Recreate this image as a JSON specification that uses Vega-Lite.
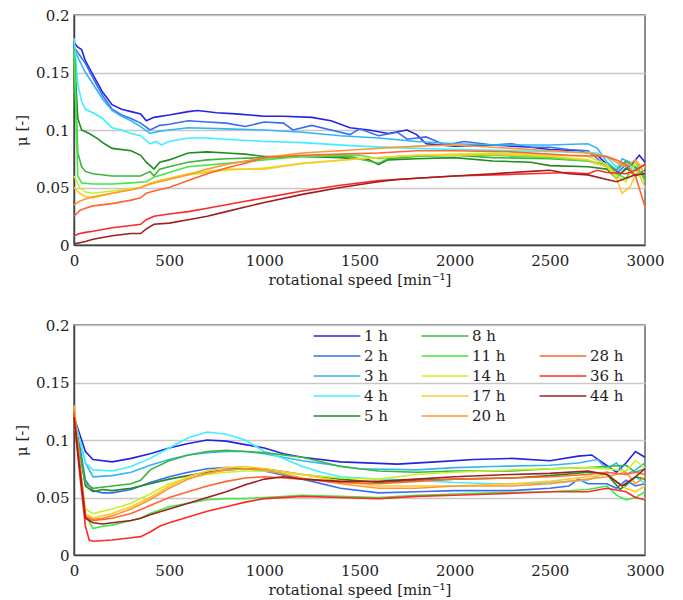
{
"$schema": "https://vega.github.io/schema/vega-lite/v6.json",
"autosize": {"type": "pad"},
"padding": {"left": 13, "top": 7, "right": 10, "bottom": 5},
"background": "white",
"spacing": 80,
"bounds": "flush",
"config": {
 "font": "DejaVu Serif",
 "view": {"stroke": "#666", "strokeWidth": 1.5},
 "axis": {"labelFont": "DejaVu Serif", "labelFontSize": 15, "labelColor": "#222", "titleFont": "DejaVu Serif", "titleFontSize": 15, "titleFontWeight": "normal", "titleColor": "#222", "domainColor": "#444", "domainWidth": 1.5, "ticks": false, "gridColor": "#c8c8c8", "gridWidth": 1.5, "labelFlush": false},
 "line": {"strokeWidth": 1.6},
 "legend": {"symbolType": "M-2.6,0H2.6", "symbolSize": 324, "symbolStrokeWidth": 2, "labelFont": "DejaVu Serif", "labelFontSize": 15, "labelColor": "#222", "labelOffset": 17, "labelLimit": 200, "padding": 0}
},
"datasets": {
"top": [
{"s":"1 h","x":0,"y":0.176},{"s":"1 h","x":20,"y":0.172},{"s":"1 h","x":40,"y":0.17},{"s":"1 h","x":60,"y":0.16},{"s":"1 h","x":100,"y":0.148},{"s":"1 h","x":150,"y":0.133},{"s":"1 h","x":200,"y":0.122},{"s":"1 h","x":250,"y":0.118},{"s":"1 h","x":300,"y":0.116},{"s":"1 h","x":350,"y":0.114},{"s":"1 h","x":380,"y":0.108},{"s":"1 h","x":420,"y":0.111},{"s":"1 h","x":500,"y":0.113},{"s":"1 h","x":600,"y":0.116},{"s":"1 h","x":650,"y":0.117},{"s":"1 h","x":750,"y":0.115},{"s":"1 h","x":850,"y":0.114},{"s":"1 h","x":1000,"y":0.112},{"s":"1 h","x":1100,"y":0.112},{"s":"1 h","x":1250,"y":0.111},{"s":"1 h","x":1350,"y":0.108},{"s":"1 h","x":1450,"y":0.102},{"s":"1 h","x":1550,"y":0.1},{"s":"1 h","x":1650,"y":0.097},{"s":"1 h","x":1750,"y":0.1},{"s":"1 h","x":1800,"y":0.096},{"s":"1 h","x":1850,"y":0.088},{"s":"1 h","x":2000,"y":0.086},{"s":"1 h","x":2200,"y":0.087},{"s":"1 h","x":2400,"y":0.085},{"s":"1 h","x":2500,"y":0.083},{"s":"1 h","x":2650,"y":0.082},{"s":"1 h","x":2750,"y":0.078},{"s":"1 h","x":2800,"y":0.07},{"s":"1 h","x":2870,"y":0.062},{"s":"1 h","x":2930,"y":0.07},{"s":"1 h","x":2970,"y":0.078},{"s":"1 h","x":3000,"y":0.072},
{"s":"2 h","x":0,"y":0.172},{"s":"2 h","x":30,"y":0.165},{"s":"2 h","x":60,"y":0.158},{"s":"2 h","x":100,"y":0.145},{"s":"2 h","x":150,"y":0.13},{"s":"2 h","x":200,"y":0.118},{"s":"2 h","x":250,"y":0.113},{"s":"2 h","x":300,"y":0.11},{"s":"2 h","x":350,"y":0.106},{"s":"2 h","x":400,"y":0.1},{"s":"2 h","x":450,"y":0.104},{"s":"2 h","x":500,"y":0.105},{"s":"2 h","x":600,"y":0.108},{"s":"2 h","x":700,"y":0.107},{"s":"2 h","x":800,"y":0.106},{"s":"2 h","x":900,"y":0.103},{"s":"2 h","x":1000,"y":0.107},{"s":"2 h","x":1100,"y":0.106},{"s":"2 h","x":1150,"y":0.1},{"s":"2 h","x":1250,"y":0.104},{"s":"2 h","x":1350,"y":0.1},{"s":"2 h","x":1450,"y":0.096},{"s":"2 h","x":1500,"y":0.101},{"s":"2 h","x":1600,"y":0.095},{"s":"2 h","x":1700,"y":0.098},{"s":"2 h","x":1750,"y":0.092},{"s":"2 h","x":1850,"y":0.094},{"s":"2 h","x":1950,"y":0.087},{"s":"2 h","x":2050,"y":0.09},{"s":"2 h","x":2200,"y":0.087},{"s":"2 h","x":2300,"y":0.088},{"s":"2 h","x":2400,"y":0.085},{"s":"2 h","x":2500,"y":0.085},{"s":"2 h","x":2600,"y":0.083},{"s":"2 h","x":2700,"y":0.082},{"s":"2 h","x":2750,"y":0.075},{"s":"2 h","x":2800,"y":0.068},{"s":"2 h","x":2850,"y":0.062},{"s":"2 h","x":2900,"y":0.07},{"s":"2 h","x":2950,"y":0.06},{"s":"2 h","x":3000,"y":0.065},
{"s":"3 h","x":0,"y":0.17},{"s":"3 h","x":30,"y":0.16},{"s":"3 h","x":60,"y":0.15},{"s":"3 h","x":100,"y":0.14},{"s":"3 h","x":150,"y":0.127},{"s":"3 h","x":200,"y":0.117},{"s":"3 h","x":250,"y":0.112},{"s":"3 h","x":300,"y":0.108},{"s":"3 h","x":350,"y":0.103},{"s":"3 h","x":400,"y":0.097},{"s":"3 h","x":450,"y":0.099},{"s":"3 h","x":500,"y":0.1},{"s":"3 h","x":600,"y":0.102},{"s":"3 h","x":800,"y":0.101},{"s":"3 h","x":1000,"y":0.1},{"s":"3 h","x":1200,"y":0.098},{"s":"3 h","x":1400,"y":0.095},{"s":"3 h","x":1600,"y":0.093},{"s":"3 h","x":1800,"y":0.09},{"s":"3 h","x":2000,"y":0.088},{"s":"3 h","x":2200,"y":0.087},{"s":"3 h","x":2500,"y":0.087},{"s":"3 h","x":2700,"y":0.088},{"s":"3 h","x":2750,"y":0.084},{"s":"3 h","x":2800,"y":0.072},{"s":"3 h","x":2850,"y":0.065},{"s":"3 h","x":2880,"y":0.075},{"s":"3 h","x":2920,"y":0.072},{"s":"3 h","x":2960,"y":0.065},{"s":"3 h","x":3000,"y":0.06},
{"s":"4 h","x":0,"y":0.18},{"s":"4 h","x":20,"y":0.14},{"s":"4 h","x":40,"y":0.125},{"s":"4 h","x":60,"y":0.118},{"s":"4 h","x":100,"y":0.115},{"s":"4 h","x":150,"y":0.11},{"s":"4 h","x":200,"y":0.102},{"s":"4 h","x":250,"y":0.1},{"s":"4 h","x":300,"y":0.097},{"s":"4 h","x":350,"y":0.095},{"s":"4 h","x":400,"y":0.088},{"s":"4 h","x":430,"y":0.09},{"s":"4 h","x":460,"y":0.087},{"s":"4 h","x":500,"y":0.09},{"s":"4 h","x":600,"y":0.093},{"s":"4 h","x":700,"y":0.093},{"s":"4 h","x":800,"y":0.092},{"s":"4 h","x":1000,"y":0.09},{"s":"4 h","x":1200,"y":0.089},{"s":"4 h","x":1500,"y":0.086},{"s":"4 h","x":1800,"y":0.084},{"s":"4 h","x":2000,"y":0.083},{"s":"4 h","x":2300,"y":0.082},{"s":"4 h","x":2600,"y":0.081},{"s":"4 h","x":2750,"y":0.08},{"s":"4 h","x":2800,"y":0.076},{"s":"4 h","x":2850,"y":0.068},{"s":"4 h","x":2900,"y":0.072},{"s":"4 h","x":2950,"y":0.065},{"s":"4 h","x":3000,"y":0.063},
{"s":"5 h","x":0,"y":0.17},{"s":"5 h","x":20,"y":0.11},{"s":"5 h","x":40,"y":0.1},{"s":"5 h","x":80,"y":0.097},{"s":"5 h","x":120,"y":0.093},{"s":"5 h","x":160,"y":0.088},{"s":"5 h","x":200,"y":0.084},{"s":"5 h","x":300,"y":0.082},{"s":"5 h","x":350,"y":0.078},{"s":"5 h","x":380,"y":0.072},{"s":"5 h","x":420,"y":0.066},{"s":"5 h","x":450,"y":0.072},{"s":"5 h","x":500,"y":0.074},{"s":"5 h","x":600,"y":0.08},{"s":"5 h","x":700,"y":0.081},{"s":"5 h","x":800,"y":0.08},{"s":"5 h","x":900,"y":0.079},{"s":"5 h","x":1000,"y":0.077},{"s":"5 h","x":1200,"y":0.077},{"s":"5 h","x":1400,"y":0.076},{"s":"5 h","x":1550,"y":0.074},{"s":"5 h","x":1600,"y":0.07},{"s":"5 h","x":1650,"y":0.074},{"s":"5 h","x":1800,"y":0.075},{"s":"5 h","x":2000,"y":0.076},{"s":"5 h","x":2200,"y":0.073},{"s":"5 h","x":2400,"y":0.072},{"s":"5 h","x":2500,"y":0.069},{"s":"5 h","x":2700,"y":0.068},{"s":"5 h","x":2800,"y":0.066},{"s":"5 h","x":2850,"y":0.058},{"s":"5 h","x":2900,"y":0.067},{"s":"5 h","x":2950,"y":0.06},{"s":"5 h","x":3000,"y":0.065},
{"s":"8 h","x":0,"y":0.17},{"s":"8 h","x":20,"y":0.08},{"s":"8 h","x":40,"y":0.068},{"s":"8 h","x":60,"y":0.064},{"s":"8 h","x":100,"y":0.062},{"s":"8 h","x":200,"y":0.06},{"s":"8 h","x":300,"y":0.06},{"s":"8 h","x":350,"y":0.06},{"s":"8 h","x":400,"y":0.064},{"s":"8 h","x":420,"y":0.06},{"s":"8 h","x":450,"y":0.066},{"s":"8 h","x":500,"y":0.068},{"s":"8 h","x":600,"y":0.072},{"s":"8 h","x":700,"y":0.074},{"s":"8 h","x":800,"y":0.075},{"s":"8 h","x":1000,"y":0.076},{"s":"8 h","x":1200,"y":0.077},{"s":"8 h","x":1450,"y":0.077},{"s":"8 h","x":1550,"y":0.073},{"s":"8 h","x":1600,"y":0.071},{"s":"8 h","x":1650,"y":0.075},{"s":"8 h","x":1800,"y":0.077},{"s":"8 h","x":2000,"y":0.078},{"s":"8 h","x":2200,"y":0.076},{"s":"8 h","x":2500,"y":0.075},{"s":"8 h","x":2700,"y":0.073},{"s":"8 h","x":2800,"y":0.07},{"s":"8 h","x":2850,"y":0.065},{"s":"8 h","x":2900,"y":0.073},{"s":"8 h","x":2950,"y":0.068},{"s":"8 h","x":3000,"y":0.058},
{"s":"11 h","x":0,"y":0.17},{"s":"11 h","x":20,"y":0.06},{"s":"11 h","x":40,"y":0.054},{"s":"11 h","x":100,"y":0.053},{"s":"11 h","x":200,"y":0.053},{"s":"11 h","x":300,"y":0.054},{"s":"11 h","x":380,"y":0.055},{"s":"11 h","x":420,"y":0.059},{"s":"11 h","x":500,"y":0.063},{"s":"11 h","x":600,"y":0.068},{"s":"11 h","x":800,"y":0.071},{"s":"11 h","x":1000,"y":0.074},{"s":"11 h","x":1200,"y":0.077},{"s":"11 h","x":1500,"y":0.078},{"s":"11 h","x":1600,"y":0.075},{"s":"11 h","x":1700,"y":0.077},{"s":"11 h","x":2000,"y":0.078},{"s":"11 h","x":2200,"y":0.078},{"s":"11 h","x":2500,"y":0.076},{"s":"11 h","x":2700,"y":0.073},{"s":"11 h","x":2800,"y":0.068},{"s":"11 h","x":2850,"y":0.062},{"s":"11 h","x":2900,"y":0.058},{"s":"11 h","x":2950,"y":0.072},{"s":"11 h","x":3000,"y":0.055},
{"s":"14 h","x":0,"y":0.06},{"s":"14 h","x":30,"y":0.05},{"s":"14 h","x":60,"y":0.046},{"s":"14 h","x":100,"y":0.045},{"s":"14 h","x":200,"y":0.047},{"s":"14 h","x":300,"y":0.049},{"s":"14 h","x":350,"y":0.05},{"s":"14 h","x":400,"y":0.053},{"s":"14 h","x":450,"y":0.056},{"s":"14 h","x":500,"y":0.058},{"s":"14 h","x":600,"y":0.061},{"s":"14 h","x":800,"y":0.065},{"s":"14 h","x":1000,"y":0.067},{"s":"14 h","x":1200,"y":0.071},{"s":"14 h","x":1500,"y":0.075},{"s":"14 h","x":1800,"y":0.078},{"s":"14 h","x":2000,"y":0.079},{"s":"14 h","x":2200,"y":0.08},{"s":"14 h","x":2500,"y":0.078},{"s":"14 h","x":2700,"y":0.077},{"s":"14 h","x":2800,"y":0.07},{"s":"14 h","x":2850,"y":0.06},{"s":"14 h","x":2900,"y":0.055},{"s":"14 h","x":2950,"y":0.072},{"s":"14 h","x":3000,"y":0.068},
{"s":"17 h","x":0,"y":0.05},{"s":"17 h","x":30,"y":0.045},{"s":"17 h","x":60,"y":0.042},{"s":"17 h","x":100,"y":0.041},{"s":"17 h","x":200,"y":0.045},{"s":"17 h","x":300,"y":0.048},{"s":"17 h","x":350,"y":0.05},{"s":"17 h","x":400,"y":0.054},{"s":"17 h","x":450,"y":0.056},{"s":"17 h","x":500,"y":0.058},{"s":"17 h","x":600,"y":0.062},{"s":"17 h","x":800,"y":0.066},{"s":"17 h","x":1000,"y":0.066},{"s":"17 h","x":1200,"y":0.071},{"s":"17 h","x":1500,"y":0.075},{"s":"17 h","x":1800,"y":0.078},{"s":"17 h","x":2000,"y":0.078},{"s":"17 h","x":2200,"y":0.079},{"s":"17 h","x":2500,"y":0.077},{"s":"17 h","x":2700,"y":0.074},{"s":"17 h","x":2800,"y":0.068},{"s":"17 h","x":2850,"y":0.058},{"s":"17 h","x":2880,"y":0.045},{"s":"17 h","x":2920,"y":0.05},{"s":"17 h","x":2960,"y":0.065},{"s":"17 h","x":3000,"y":0.05},
{"s":"20 h","x":0,"y":0.035},{"s":"20 h","x":30,"y":0.038},{"s":"20 h","x":60,"y":0.04},{"s":"20 h","x":100,"y":0.042},{"s":"20 h","x":200,"y":0.045},{"s":"20 h","x":300,"y":0.048},{"s":"20 h","x":350,"y":0.05},{"s":"20 h","x":400,"y":0.053},{"s":"20 h","x":500,"y":0.057},{"s":"20 h","x":600,"y":0.061},{"s":"20 h","x":700,"y":0.066},{"s":"20 h","x":800,"y":0.07},{"s":"20 h","x":900,"y":0.073},{"s":"20 h","x":1000,"y":0.076},{"s":"20 h","x":1200,"y":0.08},{"s":"20 h","x":1500,"y":0.083},{"s":"20 h","x":1800,"y":0.086},{"s":"20 h","x":2000,"y":0.087},{"s":"20 h","x":2200,"y":0.085},{"s":"20 h","x":2500,"y":0.082},{"s":"20 h","x":2700,"y":0.08},{"s":"20 h","x":2800,"y":0.077},{"s":"20 h","x":2850,"y":0.072},{"s":"20 h","x":2900,"y":0.068},{"s":"20 h","x":2950,"y":0.074},{"s":"20 h","x":3000,"y":0.062},
{"s":"28 h","x":0,"y":0.025},{"s":"28 h","x":30,"y":0.03},{"s":"28 h","x":60,"y":0.032},{"s":"28 h","x":100,"y":0.034},{"s":"28 h","x":200,"y":0.036},{"s":"28 h","x":300,"y":0.039},{"s":"28 h","x":350,"y":0.041},{"s":"28 h","x":380,"y":0.045},{"s":"28 h","x":420,"y":0.047},{"s":"28 h","x":500,"y":0.05},{"s":"28 h","x":600,"y":0.056},{"s":"28 h","x":700,"y":0.062},{"s":"28 h","x":800,"y":0.067},{"s":"28 h","x":900,"y":0.071},{"s":"28 h","x":1000,"y":0.076},{"s":"28 h","x":1200,"y":0.078},{"s":"28 h","x":1400,"y":0.079},{"s":"28 h","x":1600,"y":0.08},{"s":"28 h","x":1800,"y":0.082},{"s":"28 h","x":2000,"y":0.082},{"s":"28 h","x":2300,"y":0.081},{"s":"28 h","x":2600,"y":0.078},{"s":"28 h","x":2800,"y":0.077},{"s":"28 h","x":2850,"y":0.074},{"s":"28 h","x":2900,"y":0.07},{"s":"28 h","x":2950,"y":0.06},{"s":"28 h","x":3000,"y":0.033},
{"s":"36 h","x":0,"y":0.008},{"s":"36 h","x":30,"y":0.01},{"s":"36 h","x":60,"y":0.011},{"s":"36 h","x":100,"y":0.012},{"s":"36 h","x":200,"y":0.015},{"s":"36 h","x":300,"y":0.017},{"s":"36 h","x":350,"y":0.018},{"s":"36 h","x":380,"y":0.022},{"s":"36 h","x":420,"y":0.025},{"s":"36 h","x":500,"y":0.027},{"s":"36 h","x":600,"y":0.029},{"s":"36 h","x":700,"y":0.032},{"s":"36 h","x":800,"y":0.035},{"s":"36 h","x":900,"y":0.038},{"s":"36 h","x":1000,"y":0.041},{"s":"36 h","x":1200,"y":0.047},{"s":"36 h","x":1400,"y":0.052},{"s":"36 h","x":1600,"y":0.056},{"s":"36 h","x":1800,"y":0.058},{"s":"36 h","x":2000,"y":0.06},{"s":"36 h","x":2200,"y":0.061},{"s":"36 h","x":2400,"y":0.062},{"s":"36 h","x":2600,"y":0.063},{"s":"36 h","x":2700,"y":0.062},{"s":"36 h","x":2750,"y":0.065},{"s":"36 h","x":2800,"y":0.063},{"s":"36 h","x":2900,"y":0.062},{"s":"36 h","x":2950,"y":0.065},{"s":"36 h","x":3000,"y":0.07},
{"s":"44 h","x":0,"y":0.001},{"s":"44 h","x":30,"y":0.002},{"s":"44 h","x":60,"y":0.003},{"s":"44 h","x":100,"y":0.005},{"s":"44 h","x":200,"y":0.008},{"s":"44 h","x":300,"y":0.01},{"s":"44 h","x":350,"y":0.01},{"s":"44 h","x":380,"y":0.014},{"s":"44 h","x":420,"y":0.018},{"s":"44 h","x":500,"y":0.019},{"s":"44 h","x":600,"y":0.022},{"s":"44 h","x":700,"y":0.025},{"s":"44 h","x":800,"y":0.029},{"s":"44 h","x":900,"y":0.033},{"s":"44 h","x":1000,"y":0.037},{"s":"44 h","x":1200,"y":0.044},{"s":"44 h","x":1400,"y":0.05},{"s":"44 h","x":1600,"y":0.055},{"s":"44 h","x":1700,"y":0.057},{"s":"44 h","x":1800,"y":0.058},{"s":"44 h","x":2000,"y":0.06},{"s":"44 h","x":2200,"y":0.062},{"s":"44 h","x":2400,"y":0.064},{"s":"44 h","x":2500,"y":0.065},{"s":"44 h","x":2600,"y":0.062},{"s":"44 h","x":2700,"y":0.061},{"s":"44 h","x":2800,"y":0.057},{"s":"44 h","x":2850,"y":0.055},{"s":"44 h","x":2900,"y":0.058},{"s":"44 h","x":2950,"y":0.061},{"s":"44 h","x":3000,"y":0.062}
],
"bottom": [
{"s":"1 h","x":0,"y":0.12},{"s":"1 h","x":30,"y":0.105},{"s":"1 h","x":60,"y":0.09},{"s":"1 h","x":100,"y":0.083},{"s":"1 h","x":200,"y":0.081},{"s":"1 h","x":300,"y":0.084},{"s":"1 h","x":400,"y":0.088},{"s":"1 h","x":500,"y":0.093},{"s":"1 h","x":600,"y":0.097},{"s":"1 h","x":700,"y":0.1},{"s":"1 h","x":800,"y":0.099},{"s":"1 h","x":900,"y":0.096},{"s":"1 h","x":1000,"y":0.093},{"s":"1 h","x":1100,"y":0.088},{"s":"1 h","x":1200,"y":0.085},{"s":"1 h","x":1400,"y":0.081},{"s":"1 h","x":1700,"y":0.079},{"s":"1 h","x":1900,"y":0.081},{"s":"1 h","x":2100,"y":0.083},{"s":"1 h","x":2300,"y":0.084},{"s":"1 h","x":2500,"y":0.082},{"s":"1 h","x":2650,"y":0.086},{"s":"1 h","x":2720,"y":0.087},{"s":"1 h","x":2780,"y":0.08},{"s":"1 h","x":2850,"y":0.072},{"s":"1 h","x":2900,"y":0.08},{"s":"1 h","x":2950,"y":0.09},{"s":"1 h","x":3000,"y":0.085},
{"s":"2 h","x":0,"y":0.12},{"s":"2 h","x":30,"y":0.095},{"s":"2 h","x":60,"y":0.065},{"s":"2 h","x":100,"y":0.056},{"s":"2 h","x":150,"y":0.054},{"s":"2 h","x":200,"y":0.054},{"s":"2 h","x":300,"y":0.057},{"s":"2 h","x":400,"y":0.063},{"s":"2 h","x":500,"y":0.068},{"s":"2 h","x":600,"y":0.072},{"s":"2 h","x":700,"y":0.075},{"s":"2 h","x":800,"y":0.076},{"s":"2 h","x":900,"y":0.075},{"s":"2 h","x":1000,"y":0.073},{"s":"2 h","x":1200,"y":0.066},{"s":"2 h","x":1400,"y":0.058},{"s":"2 h","x":1600,"y":0.054},{"s":"2 h","x":1800,"y":0.055},{"s":"2 h","x":2000,"y":0.056},{"s":"2 h","x":2300,"y":0.056},{"s":"2 h","x":2500,"y":0.058},{"s":"2 h","x":2600,"y":0.06},{"s":"2 h","x":2650,"y":0.066},{"s":"2 h","x":2700,"y":0.062},{"s":"2 h","x":2800,"y":0.062},{"s":"2 h","x":2850,"y":0.058},{"s":"2 h","x":2900,"y":0.065},{"s":"2 h","x":2950,"y":0.06},{"s":"2 h","x":3000,"y":0.062},
{"s":"3 h","x":0,"y":0.12},{"s":"3 h","x":30,"y":0.1},{"s":"3 h","x":60,"y":0.08},{"s":"3 h","x":100,"y":0.068},{"s":"3 h","x":200,"y":0.069},{"s":"3 h","x":300,"y":0.072},{"s":"3 h","x":400,"y":0.078},{"s":"3 h","x":500,"y":0.083},{"s":"3 h","x":600,"y":0.087},{"s":"3 h","x":700,"y":0.089},{"s":"3 h","x":800,"y":0.09},{"s":"3 h","x":900,"y":0.09},{"s":"3 h","x":1000,"y":0.088},{"s":"3 h","x":1200,"y":0.082},{"s":"3 h","x":1500,"y":0.075},{"s":"3 h","x":1800,"y":0.074},{"s":"3 h","x":2000,"y":0.076},{"s":"3 h","x":2200,"y":0.077},{"s":"3 h","x":2500,"y":0.078},{"s":"3 h","x":2650,"y":0.08},{"s":"3 h","x":2750,"y":0.083},{"s":"3 h","x":2800,"y":0.075},{"s":"3 h","x":2850,"y":0.08},{"s":"3 h","x":2900,"y":0.07},{"s":"3 h","x":2950,"y":0.074},{"s":"3 h","x":3000,"y":0.08},
{"s":"4 h","x":0,"y":0.12},{"s":"4 h","x":30,"y":0.1},{"s":"4 h","x":60,"y":0.08},{"s":"4 h","x":100,"y":0.074},{"s":"4 h","x":200,"y":0.073},{"s":"4 h","x":300,"y":0.077},{"s":"4 h","x":400,"y":0.084},{"s":"4 h","x":500,"y":0.093},{"s":"4 h","x":600,"y":0.102},{"s":"4 h","x":700,"y":0.107},{"s":"4 h","x":800,"y":0.105},{"s":"4 h","x":900,"y":0.1},{"s":"4 h","x":1000,"y":0.09},{"s":"4 h","x":1100,"y":0.084},{"s":"4 h","x":1200,"y":0.077},{"s":"4 h","x":1300,"y":0.072},{"s":"4 h","x":1400,"y":0.068},{"s":"4 h","x":1600,"y":0.066},{"s":"4 h","x":1800,"y":0.065},{"s":"4 h","x":2000,"y":0.063},{"s":"4 h","x":2200,"y":0.062},{"s":"4 h","x":2400,"y":0.062},{"s":"4 h","x":2600,"y":0.064},{"s":"4 h","x":2700,"y":0.065},{"s":"4 h","x":2800,"y":0.072},{"s":"4 h","x":2850,"y":0.063},{"s":"4 h","x":2900,"y":0.06},{"s":"4 h","x":2950,"y":0.068},{"s":"4 h","x":3000,"y":0.062},
{"s":"5 h","x":0,"y":0.12},{"s":"5 h","x":30,"y":0.09},{"s":"5 h","x":60,"y":0.06},{"s":"5 h","x":100,"y":0.055},{"s":"5 h","x":150,"y":0.057},{"s":"5 h","x":200,"y":0.056},{"s":"5 h","x":300,"y":0.058},{"s":"5 h","x":400,"y":0.062},{"s":"5 h","x":500,"y":0.066},{"s":"5 h","x":600,"y":0.069},{"s":"5 h","x":700,"y":0.072},{"s":"5 h","x":800,"y":0.074},{"s":"5 h","x":900,"y":0.075},{"s":"5 h","x":1000,"y":0.075},{"s":"5 h","x":1200,"y":0.07},{"s":"5 h","x":1400,"y":0.066},{"s":"5 h","x":1600,"y":0.063},{"s":"5 h","x":1800,"y":0.065},{"s":"5 h","x":2000,"y":0.066},{"s":"5 h","x":2300,"y":0.067},{"s":"5 h","x":2500,"y":0.069},{"s":"5 h","x":2700,"y":0.072},{"s":"5 h","x":2800,"y":0.07},{"s":"5 h","x":2870,"y":0.057},{"s":"5 h","x":2950,"y":0.068},{"s":"5 h","x":3000,"y":0.066},
{"s":"8 h","x":0,"y":0.12},{"s":"8 h","x":30,"y":0.09},{"s":"8 h","x":60,"y":0.062},{"s":"8 h","x":100,"y":0.058},{"s":"8 h","x":200,"y":0.06},{"s":"8 h","x":300,"y":0.062},{"s":"8 h","x":350,"y":0.065},{"s":"8 h","x":400,"y":0.074},{"s":"8 h","x":500,"y":0.082},{"s":"8 h","x":600,"y":0.087},{"s":"8 h","x":700,"y":0.09},{"s":"8 h","x":800,"y":0.091},{"s":"8 h","x":900,"y":0.09},{"s":"8 h","x":1000,"y":0.089},{"s":"8 h","x":1200,"y":0.085},{"s":"8 h","x":1400,"y":0.077},{"s":"8 h","x":1600,"y":0.073},{"s":"8 h","x":1800,"y":0.072},{"s":"8 h","x":2000,"y":0.073},{"s":"8 h","x":2300,"y":0.073},{"s":"8 h","x":2500,"y":0.075},{"s":"8 h","x":2700,"y":0.076},{"s":"8 h","x":2800,"y":0.077},{"s":"8 h","x":2900,"y":0.078},{"s":"8 h","x":2950,"y":0.072},{"s":"8 h","x":3000,"y":0.075},
{"s":"11 h","x":0,"y":0.12},{"s":"11 h","x":30,"y":0.075},{"s":"11 h","x":60,"y":0.035},{"s":"11 h","x":100,"y":0.023},{"s":"11 h","x":150,"y":0.025},{"s":"11 h","x":200,"y":0.026},{"s":"11 h","x":300,"y":0.03},{"s":"11 h","x":350,"y":0.032},{"s":"11 h","x":400,"y":0.036},{"s":"11 h","x":500,"y":0.042},{"s":"11 h","x":600,"y":0.045},{"s":"11 h","x":700,"y":0.048},{"s":"11 h","x":800,"y":0.049},{"s":"11 h","x":900,"y":0.049},{"s":"11 h","x":1000,"y":0.05},{"s":"11 h","x":1200,"y":0.052},{"s":"11 h","x":1400,"y":0.051},{"s":"11 h","x":1600,"y":0.05},{"s":"11 h","x":1800,"y":0.052},{"s":"11 h","x":2000,"y":0.053},{"s":"11 h","x":2200,"y":0.054},{"s":"11 h","x":2500,"y":0.055},{"s":"11 h","x":2700,"y":0.057},{"s":"11 h","x":2800,"y":0.06},{"s":"11 h","x":2850,"y":0.052},{"s":"11 h","x":2900,"y":0.048},{"s":"11 h","x":2950,"y":0.05},{"s":"11 h","x":3000,"y":0.055},
{"s":"14 h","x":0,"y":0.12},{"s":"14 h","x":30,"y":0.08},{"s":"14 h","x":60,"y":0.04},{"s":"14 h","x":100,"y":0.036},{"s":"14 h","x":150,"y":0.038},{"s":"14 h","x":200,"y":0.04},{"s":"14 h","x":300,"y":0.045},{"s":"14 h","x":400,"y":0.053},{"s":"14 h","x":500,"y":0.062},{"s":"14 h","x":600,"y":0.067},{"s":"14 h","x":700,"y":0.07},{"s":"14 h","x":800,"y":0.072},{"s":"14 h","x":900,"y":0.073},{"s":"14 h","x":1000,"y":0.073},{"s":"14 h","x":1200,"y":0.07},{"s":"14 h","x":1400,"y":0.067},{"s":"14 h","x":1600,"y":0.066},{"s":"14 h","x":1800,"y":0.07},{"s":"14 h","x":2000,"y":0.072},{"s":"14 h","x":2300,"y":0.074},{"s":"14 h","x":2500,"y":0.075},{"s":"14 h","x":2700,"y":0.076},{"s":"14 h","x":2800,"y":0.075},{"s":"14 h","x":2900,"y":0.073},{"s":"14 h","x":2950,"y":0.082},{"s":"14 h","x":3000,"y":0.076},
{"s":"17 h","x":0,"y":0.13},{"s":"17 h","x":30,"y":0.08},{"s":"17 h","x":60,"y":0.036},{"s":"17 h","x":100,"y":0.032},{"s":"17 h","x":150,"y":0.034},{"s":"17 h","x":200,"y":0.036},{"s":"17 h","x":300,"y":0.042},{"s":"17 h","x":400,"y":0.05},{"s":"17 h","x":500,"y":0.06},{"s":"17 h","x":600,"y":0.068},{"s":"17 h","x":700,"y":0.073},{"s":"17 h","x":800,"y":0.076},{"s":"17 h","x":900,"y":0.077},{"s":"17 h","x":1000,"y":0.075},{"s":"17 h","x":1200,"y":0.07},{"s":"17 h","x":1400,"y":0.064},{"s":"17 h","x":1600,"y":0.06},{"s":"17 h","x":1800,"y":0.06},{"s":"17 h","x":2000,"y":0.06},{"s":"17 h","x":2300,"y":0.062},{"s":"17 h","x":2500,"y":0.064},{"s":"17 h","x":2700,"y":0.068},{"s":"17 h","x":2800,"y":0.07},{"s":"17 h","x":2900,"y":0.058},{"s":"17 h","x":2950,"y":0.055},{"s":"17 h","x":3000,"y":0.06},
{"s":"20 h","x":0,"y":0.13},{"s":"20 h","x":30,"y":0.08},{"s":"20 h","x":60,"y":0.034},{"s":"20 h","x":100,"y":0.031},{"s":"20 h","x":150,"y":0.032},{"s":"20 h","x":200,"y":0.034},{"s":"20 h","x":300,"y":0.04},{"s":"20 h","x":400,"y":0.048},{"s":"20 h","x":500,"y":0.058},{"s":"20 h","x":600,"y":0.066},{"s":"20 h","x":700,"y":0.071},{"s":"20 h","x":800,"y":0.074},{"s":"20 h","x":900,"y":0.075},{"s":"20 h","x":1000,"y":0.074},{"s":"20 h","x":1200,"y":0.067},{"s":"20 h","x":1400,"y":0.062},{"s":"20 h","x":1600,"y":0.058},{"s":"20 h","x":1800,"y":0.058},{"s":"20 h","x":2000,"y":0.06},{"s":"20 h","x":2300,"y":0.06},{"s":"20 h","x":2500,"y":0.062},{"s":"20 h","x":2700,"y":0.066},{"s":"20 h","x":2800,"y":0.068},{"s":"20 h","x":2900,"y":0.072},{"s":"20 h","x":2950,"y":0.062},{"s":"20 h","x":3000,"y":0.068},
{"s":"28 h","x":0,"y":0.125},{"s":"28 h","x":30,"y":0.08},{"s":"28 h","x":60,"y":0.033},{"s":"28 h","x":100,"y":0.03},{"s":"28 h","x":150,"y":0.031},{"s":"28 h","x":200,"y":0.032},{"s":"28 h","x":300,"y":0.036},{"s":"28 h","x":400,"y":0.043},{"s":"28 h","x":500,"y":0.05},{"s":"28 h","x":600,"y":0.055},{"s":"28 h","x":700,"y":0.06},{"s":"28 h","x":800,"y":0.064},{"s":"28 h","x":900,"y":0.067},{"s":"28 h","x":1000,"y":0.068},{"s":"28 h","x":1200,"y":0.066},{"s":"28 h","x":1400,"y":0.063},{"s":"28 h","x":1600,"y":0.062},{"s":"28 h","x":1800,"y":0.064},{"s":"28 h","x":2000,"y":0.066},{"s":"28 h","x":2300,"y":0.067},{"s":"28 h","x":2500,"y":0.068},{"s":"28 h","x":2700,"y":0.07},{"s":"28 h","x":2800,"y":0.072},{"s":"28 h","x":2900,"y":0.07},{"s":"28 h","x":2950,"y":0.072},{"s":"28 h","x":3000,"y":0.07},
{"s":"36 h","x":0,"y":0.12},{"s":"36 h","x":30,"y":0.07},{"s":"36 h","x":60,"y":0.025},{"s":"36 h","x":80,"y":0.013},{"s":"36 h","x":100,"y":0.012},{"s":"36 h","x":200,"y":0.013},{"s":"36 h","x":300,"y":0.015},{"s":"36 h","x":350,"y":0.016},{"s":"36 h","x":400,"y":0.02},{"s":"36 h","x":450,"y":0.025},{"s":"36 h","x":500,"y":0.028},{"s":"36 h","x":600,"y":0.033},{"s":"36 h","x":700,"y":0.038},{"s":"36 h","x":800,"y":0.042},{"s":"36 h","x":900,"y":0.046},{"s":"36 h","x":1000,"y":0.049},{"s":"36 h","x":1200,"y":0.051},{"s":"36 h","x":1400,"y":0.05},{"s":"36 h","x":1600,"y":0.049},{"s":"36 h","x":1800,"y":0.051},{"s":"36 h","x":2000,"y":0.052},{"s":"36 h","x":2200,"y":0.053},{"s":"36 h","x":2500,"y":0.055},{"s":"36 h","x":2700,"y":0.055},{"s":"36 h","x":2800,"y":0.058},{"s":"36 h","x":2900,"y":0.055},{"s":"36 h","x":2950,"y":0.05},{"s":"36 h","x":3000,"y":0.048},
{"s":"44 h","x":0,"y":0.12},{"s":"44 h","x":30,"y":0.075},{"s":"44 h","x":60,"y":0.032},{"s":"44 h","x":100,"y":0.028},{"s":"44 h","x":150,"y":0.027},{"s":"44 h","x":200,"y":0.028},{"s":"44 h","x":300,"y":0.03},{"s":"44 h","x":350,"y":0.032},{"s":"44 h","x":400,"y":0.035},{"s":"44 h","x":500,"y":0.04},{"s":"44 h","x":600,"y":0.045},{"s":"44 h","x":700,"y":0.05},{"s":"44 h","x":800,"y":0.055},{"s":"44 h","x":900,"y":0.061},{"s":"44 h","x":1000,"y":0.066},{"s":"44 h","x":1100,"y":0.068},{"s":"44 h","x":1200,"y":0.066},{"s":"44 h","x":1400,"y":0.064},{"s":"44 h","x":1600,"y":0.064},{"s":"44 h","x":1800,"y":0.066},{"s":"44 h","x":2000,"y":0.068},{"s":"44 h","x":2300,"y":0.07},{"s":"44 h","x":2500,"y":0.071},{"s":"44 h","x":2700,"y":0.073},{"s":"44 h","x":2800,"y":0.07},{"s":"44 h","x":2880,"y":0.06},{"s":"44 h","x":2950,"y":0.068},{"s":"44 h","x":3000,"y":0.075}
]
},
"resolve": {"legend": {"color": "independent"}},
"vconcat": [
 {
  "width": 571, "height": 230,
  "data": {"name": "top"},
  "mark": {"type": "line", "strokeWidth": 1.6},
  "encoding": {
   "x": {"field": "x", "type": "quantitative", "scale": {"domain": [0, 3000], "nice": false}, "axis": {"title": "rotational speed [min⁻¹]", "grid": false, "format": "d", "values": [0,500,1000,1500,2000,2500,3000], "labelPadding": 8, "titlePadding": 4}},
   "y": {"field": "y", "type": "quantitative", "scale": {"domain": [0, 0.2], "nice": false}, "axis": {"title": "μ [-]", "format": "~g", "values": [0,0.05,0.1,0.15,0.2], "labelPadding": 5, "titlePadding": 6}},
   "color": {"field": "s", "type": "nominal", "legend": null,
    "scale": {"domain": ["1 h","2 h","3 h","4 h","5 h","8 h","11 h","14 h","17 h","20 h","28 h","36 h","44 h"," "], "range": ["#2424e0","#3a6cf5","#33b5f5","#3ef0ff","#1e8c1e","#3cb43c","#44e844","#c8f028","#ffc828","#ff9632","#ff6432","#ff2828","#a01e1e","rgba(0,0,0,0)"]}},
   "order": {"field": "x", "type": "quantitative"}
  }
 },
 {
  "width": 571, "height": 230,
  "data": {"name": "bottom"},
  "mark": {"type": "line", "strokeWidth": 1.6},
  "encoding": {
   "x": {"field": "x", "type": "quantitative", "scale": {"domain": [0, 3000], "nice": false}, "axis": {"title": "rotational speed [min⁻¹]", "grid": false, "format": "d", "values": [0,500,1000,1500,2000,2500,3000], "labelPadding": 8, "titlePadding": 4}},
   "y": {"field": "y", "type": "quantitative", "scale": {"domain": [0, 0.2], "nice": false}, "axis": {"title": "μ [-]", "format": "~g", "values": [0,0.05,0.1,0.15,0.2], "labelPadding": 5, "titlePadding": 6}},
   "color": {"field": "s", "type": "nominal",
    "scale": {"domain": ["1 h","2 h","3 h","4 h","5 h","8 h","11 h","14 h","17 h","20 h","28 h","36 h","44 h"," "], "range": ["#2424e0","#3a6cf5","#33b5f5","#3ef0ff","#1e8c1e","#3cb43c","#44e844","#c8f028","#ffc828","#ff9632","#ff6432","#ff2828","#a01e1e","rgba(0,0,0,0)"]},
    "legend": {"title": null, "orient": "none", "legendX": 253, "legendY": 1, "columns": 3, "columnPadding": 30, "rowPadding": 2, "values": ["1 h","2 h","3 h","4 h","5 h","8 h","11 h","14 h","17 h","20 h"," ","28 h","36 h","44 h"]}},
   "order": {"field": "x", "type": "quantitative"}
  }
 }
]
}
